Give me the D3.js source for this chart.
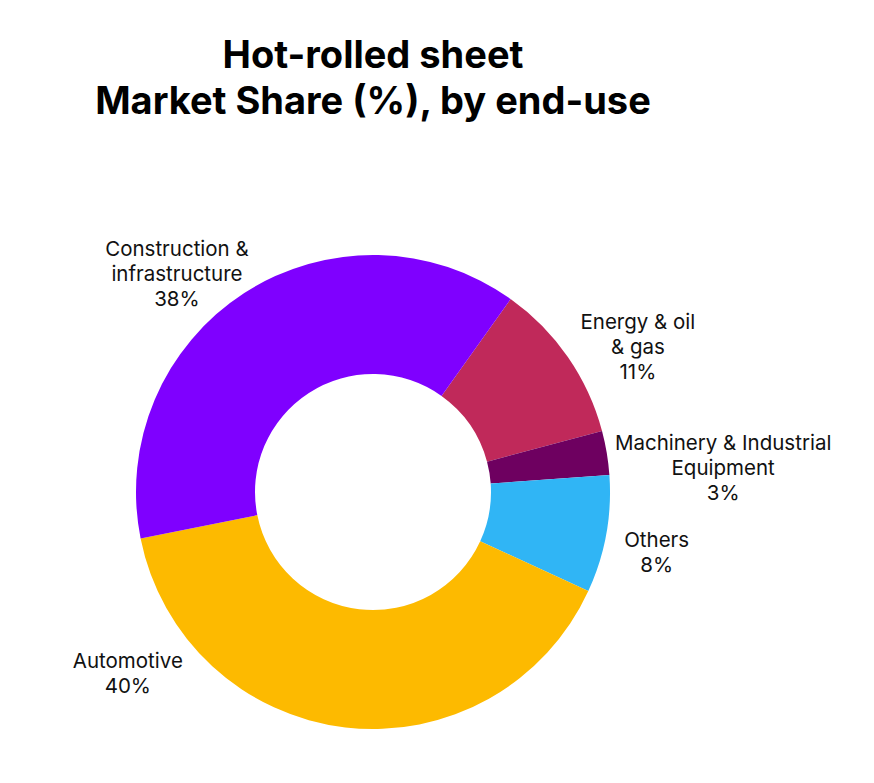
<!DOCTYPE html>
<html><head><meta charset="utf-8">
<script src="https://cdn.jsdelivr.net/npm/d3@7"></script>
<style>
body{margin:0;background:#fff;font-family:Inter,"Noto Sans",sans-serif;}
</style></head>
<body><svg id="chart" width="874" height="783"></svg>
<script>
// chart data
const categories = ["Energy & oil\n& gas", "Machinery & Industrial\nEquipment", "Others", "Automotive", "Construction &\ninfrastructure"];
const shares = [11, 3, 8, 40, 38];
const colors = ["#C0295A", "#6E0060", "#30B5F5", "#FDBA00", "#7F00FF"];

const svg = d3.select("#chart");
const cx = 373, cy = 492;

// title
svg.append("text").attr("x", 373).attr("y", 68).attr("text-anchor", "middle")
  .style("font-size", "38px").style("font-weight", 700).text("Hot-rolled sheet");
svg.append("text").attr("x", 373).attr("y", 114).attr("text-anchor", "middle")
  .style("font-size", "38px").style("font-weight", 700).text("Market Share (%), by end-use");

const start = 35.5 * Math.PI / 180;
const pie = d3.pie().sort(null).startAngle(start).endAngle(start + 2 * Math.PI);
const arcs = pie(shares);
const arc = d3.arc().innerRadius(118).outerRadius(237);

const g = svg.append("g").attr("transform", `translate(${cx},${cy})`);
g.selectAll("path").data(arcs).enter().append("path")
  .attr("d", arc).attr("fill", (d, i) => colors[i]);

// label placement: angle (deg) and radius per slice, tweaked to match layout
const labelAngle = [61.3, 86, 102, 233.5, 318];
const labelRadius = [302, 351, 290, 305, 293];

arcs.forEach((d, i) => {
  const a = labelAngle[i] * Math.PI / 180;
  const x = Math.sin(a) * labelRadius[i], y = -Math.cos(a) * labelRadius[i];
  const lines = categories[i].split("\n").concat([shares[i] + "%"]);
  const t = g.append("text").attr("text-anchor", "middle")
    .style("font-size", "20.5px").attr("fill", "#111");
  const y0 = y - (lines.length - 1) * 25 / 2 + 7;
  lines.forEach((l, k) => t.append("tspan").attr("x", x).attr("y", y0 + k * 25).text(l));
});
</script></body></html>
